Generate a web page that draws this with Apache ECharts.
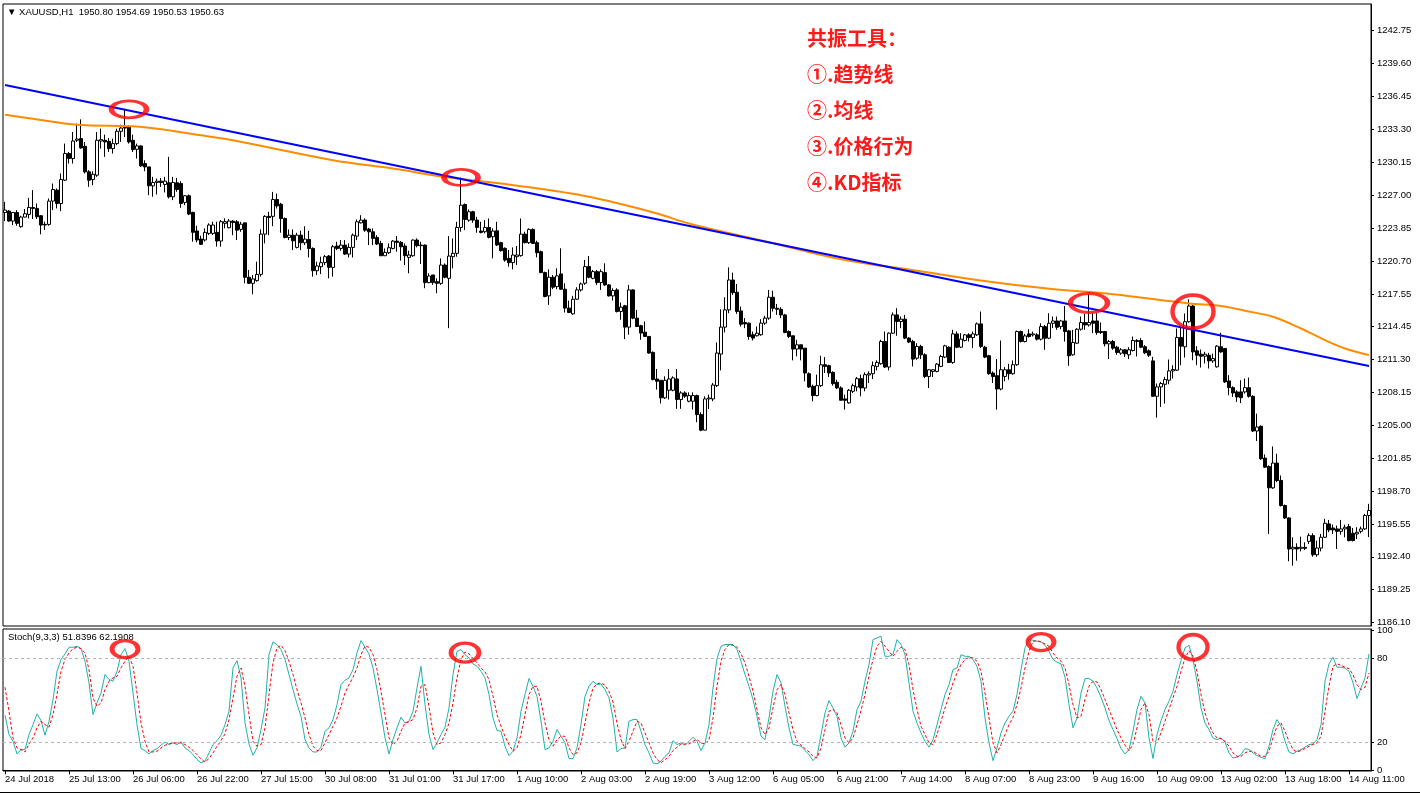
<!DOCTYPE html>
<html><head><meta charset="utf-8">
<script src="https://cdn.jsdelivr.net/npm/echarts@6/dist/echarts.min.js"></script>
<style>html,body{margin:0;padding:0;background:#fff}#c{width:1420px;height:795px}</style>
</head><body><div id="c"></div>
<script>
// ---- price data (H1 bars, XAUUSD) ----
const opens=[1225.35,1225.48,1224.53,1225.35,1223.99,1224.91,1225.17,1225.83,1225.74,1225.04,
1224.21,1224.21,1226.44,1227.49,1226.21,1228.44,1230.99,1230.51,1232.26,1232.42,
1231.68,1229.24,1228.50,1228.92,1232.19,1232.26,1232.16,1231.46,1231.94,1233.12,
1233.59,1233.53,1232.26,1231.40,1231.72,1230.03,1229.71,1227.90,1228.22,1228.35,
1228.03,1228.19,1226.85,1228.19,1228.12,1226.31,1226.95,1225.36,1223.58,1222.81,
1222.72,1223.35,1223.35,1223.45,1222.62,1224.31,1223.89,1224.52,1224.46,1223.73,
1224.36,1219.15,1218.57,1218.83,1219.43,1223.28,1224.98,1224.98,1226.59,1226.14,
1224.77,1222.96,1223.18,1222.01,1223.18,1222.45,1222.77,1221.91,1219.78,1220.16,
1220.55,1221.18,1220.10,1222.14,1221.91,1222.23,1221.37,1222.01,1223.09,1224.36,
1224.62,1223.76,1223.50,1222.96,1222.39,1221.21,1221.50,1221.91,1222.61,1222.49,
1222.14,1221.05,1221.21,1222.71,1222.23,1222.23,1218.64,1219.37,1218.73,1218.57,
1220.32,1219.05,1221.12,1221.44,1223.92,1226.11,1224.62,1225.42,1224.62,1223.57,
1223.51,1223.92,1223.03,1223.60,1222.46,1221.92,1220.96,1220.55,1221.12,1221.22,
1223.28,1222.46,1223.73,1222.46,1221.60,1219.60,1217.37,1219.15,1218.26,1219.47,
1218.01,1216.20,1215.65,1217.05,1217.94,1218.58,1220.17,1219.05,1219.69,1218.64,
1219.60,1218.42,1217.37,1217.94,1215.88,1216.42,1214.38,1217.94,1215.24,1214.51,
1213.90,1213.49,1211.96,1209.42,1209.29,1207.61,1208.34,1208.34,1209.42,1207.45,
1208.08,1207.29,1207.29,1207.83,1206.01,1204.52,1207.51,1207.51,1208.78,1211.80,
1214.38,1216.03,1218.89,1217.72,1215.93,1214.82,1214.76,1213.65,1213.55,1213.65,
1214.76,1215.24,1217.24,1216.19,1216.09,1215.55,1213.96,1213.55,1212.28,1212.69,
1212.37,1209.92,1208.72,1207.83,1208.78,1210.78,1210.69,1210.05,1209.10,1208.56,
1207.51,1207.13,1208.24,1208.65,1209.45,1208.56,1209.80,1209.92,1210.62,1210.88,
1213.01,1210.56,1213.80,1215.55,1214.92,1215.14,1213.33,1213.01,1211.41,1212.53,
1211.73,1209.66,1210.14,1210.14,1210.62,1211.51,1212.46,1211.00,1213.73,1212.46,
1213.10,1213.64,1213.38,1213.64,1214.69,1212.46,1211.64,1209.98,1209.73,1208.46,
1209.66,1210.30,1209.92,1210.78,1213.96,1213.00,1213.73,1213.64,1213.64,1213.23,
1214.43,1213.32,1214.75,1214.97,1214.43,1214.97,1214.02,1211.73,1212.84,1214.18,
1214.82,1214.59,1214.97,1214.97,1213.96,1213.96,1212.78,1213.00,1212.46,1211.89,
1212.21,1211.73,1212.14,1213.00,1213.10,1212.50,1212.11,1211.15,1207.76,1208.66,
1208.91,1209.30,1210.19,1210.26,1213.39,1212.50,1214.90,1216.40,1212.11,1211.79,
1211.60,1211.69,1211.15,1210.58,1212.50,1212.34,1209.23,1208.59,1208.18,1208.18,
1208.18,1208.59,1207.76,1204.44,1204.89,1201.85,1201.05,1199.00,1201.37,1199.70,
1197.31,1196.12,1193.15,1193.31,1193.21,1193.31,1193.88,1194.43,1192.60,1193.24,
1194.27,1195.55,1195.16,1195.07,1194.84,1195.07,1195.29,1194.65,1194.59,1194.84,
1195.07,1196.35];
const closes=[1225.58,1224.53,1225.35,1224.31,1224.91,1225.23,1225.83,1225.74,1224.94,1224.15,
1224.15,1226.44,1227.55,1226.21,1228.50,1230.99,1230.51,1232.19,1232.38,1231.53,
1229.24,1228.44,1229.01,1232.26,1232.32,1232.10,1231.46,1231.94,1233.12,1233.43,
1233.43,1232.10,1231.37,1231.72,1229.81,1229.71,1227.90,1228.22,1228.35,1228.22,
1228.35,1226.85,1228.22,1227.55,1226.21,1226.95,1225.20,1223.45,1222.72,1222.30,
1223.45,1224.15,1224.15,1222.62,1224.47,1224.47,1224.53,1224.39,1223.66,1224.23,
1219.15,1218.57,1218.99,1219.43,1223.28,1224.98,1224.87,1226.59,1225.98,1224.77,
1222.96,1223.18,1222.64,1223.18,1222.45,1222.80,1221.91,1219.78,1220.23,1220.55,
1221.12,1220.10,1222.07,1221.91,1222.23,1221.37,1222.01,1223.18,1224.46,1224.62,
1223.66,1223.50,1222.87,1222.33,1221.21,1221.53,1221.98,1222.61,1222.49,1222.07,
1221.21,1221.28,1222.71,1222.17,1222.17,1218.64,1219.27,1218.64,1218.57,1220.32,
1219.15,1221.18,1221.44,1223.92,1226.05,1224.68,1225.42,1224.62,1223.92,1223.44,
1223.92,1222.97,1223.57,1222.24,1221.70,1220.80,1220.55,1221.28,1221.28,1223.28,
1222.46,1223.73,1222.39,1221.50,1219.60,1217.31,1219.15,1218.20,1219.28,1218.01,
1216.20,1215.78,1217.05,1217.94,1218.51,1220.17,1219.15,1219.69,1218.64,1219.69,
1218.42,1217.37,1217.88,1215.88,1216.29,1214.38,1217.94,1215.24,1214.44,1213.81,
1213.49,1211.90,1209.36,1209.20,1207.61,1209.29,1209.42,1209.52,1207.45,1208.08,
1207.77,1207.83,1207.83,1206.01,1204.52,1207.51,1207.60,1208.84,1211.90,1214.38,
1216.03,1218.89,1217.68,1215.87,1214.66,1214.69,1213.49,1213.33,1213.80,1214.76,
1215.24,1217.24,1216.19,1216.09,1215.55,1213.87,1213.49,1212.28,1212.69,1212.28,
1209.99,1208.65,1207.83,1208.78,1210.78,1210.62,1209.99,1208.97,1208.56,1207.38,
1207.38,1208.34,1208.78,1209.45,1208.56,1209.83,1209.92,1210.69,1211.01,1213.01,
1210.56,1213.80,1215.55,1214.92,1215.14,1213.33,1212.95,1211.32,1212.53,1211.73,
1209.66,1210.30,1210.30,1210.84,1211.57,1212.59,1211.00,1213.73,1212.46,1213.23,
1213.64,1213.38,1213.73,1214.69,1212.53,1211.51,1209.92,1209.66,1208.46,1210.30,
1210.30,1209.92,1210.78,1213.96,1213.00,1213.54,1213.48,1213.73,1213.23,1214.43,
1213.32,1214.75,1214.97,1214.37,1214.97,1213.96,1211.64,1212.91,1214.18,1214.82,
1214.59,1214.82,1214.75,1213.86,1213.86,1212.78,1213.00,1212.37,1211.95,1212.21,
1211.83,1212.21,1213.10,1213.10,1212.46,1211.92,1211.69,1207.76,1208.66,1208.98,
1209.36,1210.19,1210.32,1213.39,1212.56,1214.90,1216.40,1212.01,1211.69,1211.60,
1211.79,1211.15,1211.37,1212.56,1212.01,1209.14,1208.59,1208.08,1207.70,1207.63,
1208.59,1207.76,1204.44,1204.82,1201.78,1200.98,1199.00,1201.37,1199.70,1197.31,
1196.12,1193.15,1193.31,1193.15,1193.31,1193.21,1194.43,1192.60,1193.24,1194.27,
1195.61,1194.97,1194.97,1194.84,1195.07,1195.23,1193.95,1193.95,1194.75,1195.07,
1196.35,1196.83];
const lows=[1224.53,1224.47,1224.15,1224.08,1223.89,1224.90,1224.78,1224.72,1224.72,1223.26,
1223.67,1224.08,1225.58,1225.74,1225.48,1228.35,1230.03,1230.03,1232.10,1231.46,
1229.08,1227.80,1227.96,1228.76,1231.46,1230.67,1231.14,1230.99,1231.78,1232.10,
1232.57,1231.94,1231.14,1230.51,1229.71,1229.30,1227.01,1226.85,1227.07,1227.80,
1227.27,1226.69,1226.53,1227.33,1225.80,1226.05,1225.10,1222.56,1222.50,1222.24,
1222.56,1223.19,1223.19,1222.08,1222.08,1223.83,1223.83,1223.18,1222.71,1223.50,
1218.57,1218.51,1217.52,1218.73,1219.21,1222.39,1223.18,1224.04,1225.73,1223.41,
1222.87,1222.71,1221.75,1221.91,1221.75,1222.23,1221.05,1219.21,1219.37,1219.46,
1220.32,1219.05,1219.21,1221.75,1221.69,1221.28,1221.05,1221.05,1222.71,1224.30,
1223.50,1222.23,1222.23,1222.23,1221.18,1221.18,1221.37,1221.82,1221.60,1220.74,
1220.32,1219.53,1221.12,1222.01,1220.42,1218.10,1218.57,1218.42,1217.62,1218.42,
1219.05,1214.28,1220.00,1221.12,1223.51,1223.67,1224.46,1224.37,1223.41,1223.35,
1223.35,1222.87,1220.96,1222.14,1221.60,1220.64,1220.17,1219.91,1220.33,1221.12,
1222.39,1222.33,1222.33,1221.06,1219.53,1217.24,1216.51,1218.01,1218.01,1217.94,
1215.78,1215.72,1215.56,1216.99,1217.78,1218.42,1219.05,1218.96,1218.42,1217.94,
1218.32,1217.31,1216.92,1215.78,1215.08,1213.24,1213.65,1215.14,1214.38,1213.17,
1213.43,1211.84,1209.29,1208.40,1207.07,1207.51,1207.45,1208.24,1206.56,1206.56,
1207.61,1207.19,1206.49,1205.28,1204.42,1204.52,1206.55,1207.29,1208.65,1210.24,
1213.87,1215.71,1217.46,1215.65,1214.44,1214.28,1213.17,1213.10,1213.49,1213.55,
1214.60,1215.08,1215.87,1215.55,1215.24,1213.80,1213.33,1211.20,1211.58,1211.20,
1209.19,1208.56,1207.29,1207.76,1208.65,1209.99,1209.61,1208.78,1208.46,1207.38,
1206.49,1207.06,1208.08,1208.24,1207.76,1208.24,1209.03,1209.42,1210.24,1210.78,
1210.47,1210.24,1213.74,1213.55,1214.28,1213.23,1212.85,1210.62,1211.25,1211.32,
1209.50,1208.55,1209.60,1210.05,1210.55,1211.41,1210.94,1210.87,1212.37,1212.37,
1213.00,1213.00,1212.37,1213.54,1212.37,1211.41,1209.82,1209.03,1206.48,1208.33,
1209.19,1209.35,1209.82,1210.68,1212.91,1212.91,1213.38,1213.48,1213.10,1213.10,
1212.21,1213.23,1214.28,1214.12,1214.18,1213.00,1210.68,1211.64,1212.78,1214.05,
1214.12,1214.43,1213.80,1213.64,1213.73,1212.53,1211.32,1212.21,1211.73,1211.73,
1211.51,1211.32,1212.05,1211.57,1212.37,1211.79,1211.53,1207.70,1205.72,1206.74,
1207.06,1208.91,1209.46,1210.19,1210.74,1211.47,1214.80,1211.21,1210.74,1210.51,
1210.90,1210.42,1210.96,1210.51,1211.92,1209.04,1207.86,1207.70,1207.22,1207.12,
1208.02,1207.63,1204.34,1203.48,1201.68,1200.92,1194.59,1198.90,1199.54,1197.21,
1196.03,1191.97,1191.55,1192.03,1192.92,1193.05,1193.63,1192.41,1192.41,1192.92,
1194.20,1194.75,1194.59,1193.15,1194.52,1194.27,1193.88,1193.88,1194.11,1194.65,
1194.97,1194.29];
const highs=[1226.37,1225.58,1225.40,1225.58,1225.04,1225.68,1226.75,1227.49,1226.21,1225.10,
1224.47,1226.69,1228.12,1227.65,1229.08,1231.94,1231.14,1233.05,1233.85,1234.26,
1232.10,1229.40,1229.30,1233.05,1233.37,1232.80,1232.48,1232.42,1233.37,1233.75,
1235.28,1233.69,1232.80,1231.94,1231.78,1230.35,1229.71,1228.76,1228.60,1228.66,
1228.76,1230.67,1228.76,1228.66,1228.35,1227.01,1227.07,1225.42,1224.08,1223.13,
1223.83,1224.31,1224.47,1224.47,1224.63,1224.79,1224.72,1224.62,1224.62,1224.46,
1224.36,1219.85,1219.37,1220.64,1223.73,1225.09,1225.41,1227.32,1227.16,1226.27,
1224.87,1223.73,1223.73,1223.41,1223.60,1224.04,1223.60,1222.01,1220.64,1221.12,
1221.28,1221.28,1222.23,1222.55,1222.71,1222.71,1222.39,1223.34,1224.68,1225.09,
1224.78,1223.88,1223.82,1223.18,1222.64,1221.91,1222.39,1222.71,1223.09,1222.61,
1222.39,1221.69,1222.77,1222.87,1222.55,1222.29,1219.53,1219.37,1219.05,1220.96,
1220.48,1223.09,1222.87,1224.46,1228.69,1226.21,1225.64,1225.51,1224.94,1224.46,
1224.62,1224.78,1223.83,1224.46,1222.55,1222.01,1221.76,1222.01,1222.14,1224.78,
1223.51,1223.83,1223.83,1222.65,1221.70,1219.69,1219.91,1219.37,1220.01,1221.92,
1218.58,1216.92,1217.37,1218.20,1218.64,1220.80,1221.19,1219.85,1219.85,1219.91,
1220.49,1218.51,1218.10,1218.10,1216.73,1216.51,1218.42,1218.01,1216.03,1214.60,
1214.92,1213.49,1212.06,1210.37,1209.29,1209.67,1210.37,1209.67,1210.37,1208.24,
1208.24,1208.14,1208.14,1207.92,1206.24,1207.76,1207.92,1209.03,1212.91,1216.09,
1217.24,1220.10,1219.59,1218.51,1216.35,1215.24,1214.82,1213.96,1214.44,1215.14,
1215.46,1217.94,1217.87,1216.60,1216.28,1215.65,1214.06,1213.55,1213.17,1212.69,
1212.37,1210.05,1208.88,1209.83,1211.64,1211.51,1210.78,1210.15,1209.35,1208.72,
1207.92,1208.46,1208.97,1209.61,1209.83,1210.05,1210.15,1211.10,1211.20,1213.17,
1213.96,1213.87,1215.78,1216.19,1215.39,1215.55,1213.42,1213.17,1212.84,1212.69,
1211.89,1210.36,1210.36,1210.94,1211.73,1212.69,1212.53,1214.12,1213.96,1213.80,
1213.73,1213.80,1213.96,1214.82,1215.87,1212.59,1211.73,1210.14,1211.32,1213.10,
1210.55,1210.87,1211.19,1214.05,1214.05,1213.73,1214.18,1213.96,1213.80,1214.75,
1214.59,1215.71,1215.39,1215.39,1215.07,1216.40,1214.12,1214.12,1214.28,1215.39,
1215.64,1217.55,1215.71,1215.71,1214.82,1214.02,1213.16,1213.16,1212.59,1212.37,
1212.27,1212.46,1213.48,1213.23,1213.32,1212.66,1212.24,1211.53,1208.98,1209.14,
1209.62,1211.28,1210.74,1214.25,1214.41,1215.69,1217.04,1216.49,1212.56,1212.24,
1212.02,1211.92,1211.85,1212.66,1213.84,1212.34,1209.78,1208.72,1208.34,1209.30,
1209.46,1209.55,1207.86,1206.10,1204.98,1202.20,1201.14,1202.96,1202.26,1200.18,
1197.40,1196.19,1194.27,1193.69,1194.33,1193.79,1194.65,1194.65,1193.95,1194.59,
1196.03,1195.93,1195.48,1195.39,1195.93,1195.48,1195.55,1195.16,1195.23,1195.29,
1196.51,1197.47];

// ---- stochastic (9,3,3) ----
const stochK=[39.3,25.5,20.7,11.7,14.8,14.8,25.5,32.6,40.3,35.5,
25.0,35.0,50.5,70.7,79.1,83.1,87.9,87.9,88.6,86.9,
77.9,62.4,39.8,48.1,55.2,68.4,64.8,63.6,70.7,82.6,
86.9,77.9,55.2,32.6,15.5,14.1,11.7,14.1,15.5,17.9,
20.3,18.4,19.6,18.4,20.3,16.0,14.1,11.2,7.7,5.3,
6.5,12.4,18.4,21.2,25.0,32.6,42.2,73.1,78.3,66.0,
33.8,18.8,10.8,16.0,29.1,44.5,82.6,91.7,89.8,86.2,
79.1,68.4,57.6,47.4,38.6,21.9,16.0,13.1,13.1,16.5,
27.9,30.3,36.2,46.9,61.2,
64.3,66.0,71.9,83.8,92.6,87.9,83.1,73.1,57.6,41.0,
23.1,11.7,21.9,30.3,37.9,33.8,35.0,42.2,58.8,74.3,
46.9,25.5,14.8,19.6,25.5,30.8,44.5,68.4,85.0,86.2,
82.6,80.2,76.0,74.3,70.7,66.0,54.1,37.4,28.4,27.9,
17.2,10.5,13.6,23.1,42.2,54.1,65.5,60.0,52.9,35.0,
14.8,16.0,20.7,29.1,24.3,19.6,8.4,8.4,16.0,32.6,
52.9,60.0,63.6,61.2,61.7,57.6,51.7,37.4,13.1,15.5,
16.0,35.0,36.2,36.2,27.9,18.4,12.4,5.3,4.6,6.5,
10.0,12.4,21.2,18.4,19.6,17.9,
20.7,23.6,20.7,14.1,19.6,32.6,58.8,79.8,88.6,89.8,
89.8,89.8,86.2,77.9,68.4,60.0,50.5,38.6,24.3,21.9,
37.4,56.4,68.4,62.4,45.7,30.3,18.4,17.9,17.2,14.1,
11.2,6.9,10.0,25.5,41.0,49.8,44.5,38.6,23.1,16.5,
19.6,27.9,43.4,49.3,63.6,75.5,93.3,94.5,95.7,81.4,
81.4,82.6,93.3,89.8,82.6,62.4,42.2,33.8,26.7,20.7,
16.5,21.9,32.6,43.4,54.1,61.2,71.9,73.1,82.6,81.4,
81.4,79.1,74.3,63.6,37.4,19.6,6.9,16.0,26.7,33.8,
38.6,42.2,54.1,71.9,87.4,93.3,
92.9,92.1,91.7,89.3,85.0,79.1,77.2,76.0,66.4,46.9,
30.3,37.4,55.2,65.5,65.5,63.6,58.8,52.2,44.5,35.5,
29.1,22.6,15.5,11.7,14.8,27.9,43.4,52.9,48.1,23.1,
8.4,25.5,35.5,43.4,49.3,56.4,68.4,78.3,87.4,89.3,
79.1,63.6,44.5,33.8,29.1,23.1,21.9,23.1,20.3,12.4,
8.8,9.3,11.2,15.5,14.8,12.4,10.5,9.3,8.4,17.2,
29.1,36.2,31.5,20.7,13.1,11.7,13.6,14.8,16.5,18.4,
18.8,21.9,32.6,63.6,76.0,80.7,73.6,73.6,73.1,70.7,
62.4,51.2,58.8,66.0,83.1];
const stochD=[59.3,42.2,23.1,16.0,14.8,13.1,18.8,23.1,30.3,35.0,
32.6,30.8,39.8,54.1,70.7,79.1,83.8,86.9,87.9,86.9,
83.8,71.9,51.7,45.7,48.1,57.6,63.6,66.0,67.2,73.1,
77.9,81.4,74.3,55.2,33.8,20.7,13.1,13.1,13.6,16.0,
17.9,18.8,19.6,19.6,19.6,18.4,16.5,14.1,11.2,8.1,
6.0,8.4,12.4,17.2,21.2,26.0,36.2,51.7,67.2,73.1,
60.0,39.8,20.7,17.2,18.4,30.3,54.1,76.7,87.4,89.3,
85.5,77.9,68.4,57.6,48.1,37.4,25.5,17.2,14.1,14.1,
19.6,25.5,31.5,37.4,45.7,
55.2,61.2,66.4,73.1,82.6,88.6,87.9,82.6,71.9,56.4,
39.8,23.1,18.4,20.7,27.9,33.8,34.6,36.2,44.5,60.0,
61.2,45.7,26.7,18.4,19.6,25.5,33.8,48.1,66.0,79.1,
84.5,83.1,79.8,76.7,73.1,70.3,64.8,52.9,39.8,31.5,
24.3,18.4,13.6,16.0,25.5,39.8,54.1,60.0,60.0,49.3,
33.8,21.9,17.2,21.9,24.3,24.3,16.0,11.2,12.4,19.6,
33.8,48.1,58.8,61.7,62.4,60.7,56.4,48.8,33.8,21.9,
15.5,20.7,27.9,35.0,33.8,26.7,19.6,12.4,7.7,5.3,
7.7,10.0,14.1,16.5,18.8,18.8,
18.8,20.7,21.9,19.6,18.8,21.9,37.4,60.0,77.9,86.2,
89.8,89.3,87.9,83.1,76.7,67.2,56.4,43.4,30.3,25.5,
30.3,44.5,57.6,61.2,54.1,41.0,29.1,20.7,17.9,15.5,
13.1,10.0,8.8,16.0,29.1,42.2,43.4,41.0,32.6,23.1,
19.6,23.1,32.6,42.6,54.1,67.2,79.1,88.6,92.1,88.6,
85.0,81.4,85.0,87.9,86.2,75.5,57.6,43.4,31.5,25.5,
19.6,18.4,25.5,35.0,44.5,52.9,62.4,69.5,75.5,79.1,
80.7,80.2,77.9,70.7,55.2,37.4,19.6,12.4,18.4,25.5,
32.6,37.9,46.9,58.8,73.1,85.0,
92.1,92.6,91.7,90.2,88.6,83.8,80.2,77.9,73.1,61.2,
46.9,37.4,38.6,50.5,60.0,63.6,63.1,57.6,50.5,43.4,
36.2,29.1,23.1,17.9,14.1,18.4,30.3,43.4,48.1,39.8,
20.7,19.6,26.7,35.0,43.4,51.7,60.0,70.7,80.2,85.5,
81.4,70.7,54.1,41.0,32.6,26.7,23.1,22.6,20.7,17.2,
12.4,10.0,10.0,12.4,13.6,13.6,11.7,10.0,10.0,13.6,
23.1,31.5,33.8,27.9,20.7,14.8,13.1,14.1,15.5,17.2,
18.4,19.6,24.3,42.2,60.0,74.3,76.0,75.0,73.6,72.6,
68.4,61.2,57.6,59.3,69.5];

// ---- overlays ----
const trendBars=[0,341];
const trendValues=[1237.55,1210.65];
const maBars=[0,7,18,32,40,49,57,82,97,110,129,146,163,171,190,210,228,243,260,277,296,304,310,317,324,330,335,341];
const maValues=[1234.70,1234.32,1233.75,1233.59,1233.27,1232.73,1232.26,1230.34,1229.55,1228.75,1227.86,1226.85,1225.26,1224.30,1222.60,1220.80,1219.78,1218.89,1218.09,1217.52,1216.65,1216.40,1215.95,1215.37,1214.25,1213.13,1212.33,1211.70];
const priceMarkBars=[31,114,271,297];
const priceMarkValues=[1235.22,1228.70,1216.69,1215.86];
const stochMarkBars=[30,115,259,297];
const stochMarkValues=[86.6,84.0,91.6,88.0];

// ---- axis ticks ----
const priceTicks=[1186.10,1189.25,1192.40,1195.55,1198.70,1201.85,1205.00,1208.15,1211.30,1214.45,1217.55,1220.70,1223.85,1227.00,1230.15,1233.30,1236.45,1239.60,1242.75];
const stochTicks=[0,20,80,100];
const stochLevels=[20,80];
const firstLabel='24 Jul 2018';
const MONTHS=['Jan','Feb','Mar','Apr','May','Jun','Jul','Aug','Sep','Oct','Nov','Dec'];

// hourly bar times (no 00:00 bar, no weekends)
const categories=[];
(function(){let t=Date.UTC(2018,6,24,20);
 while(categories.length<opens.length){const d=new Date(t);const h=d.getUTCHours(),w=d.getUTCDay();
  if(h!==0&&w!==0&&w!==6){categories.push(d.getUTCDate()+' '+MONTHS[d.getUTCMonth()]+' '+String(h).padStart(2,'0')+':00');}
  t+=3600000;}})();

const candleData=opens.map((o,i)=>[o,closes[i],lows[i],highs[i]]);
const FONT='"Liberation Sans", Arial, sans-serif';
const CJK='"Noto Sans CJK SC", sans-serif';
const priceMarkSizes=[[35,17],[34,16],[37,19],[41,33]];
const stochMarkSizes=[[26,17],[28,19],[26,17],[29,25]];
const noteStyle={fontSize:20,fontWeight:'bold',fontFamily:CJK,fill:'#ff1a1a'};

const chart=echarts.init(document.getElementById('c'),null,{renderer:'canvas'});
chart.setOption({
 animation:false,
 backgroundColor:'#fff',
 grid:[
  {left:3,right:49,top:4,height:622,show:true,borderColor:'#000',borderWidth:1},
  {left:3,right:49,top:629,height:142,show:true,borderColor:'#000',borderWidth:1}
 ],
 xAxis:[
  {type:'category',gridIndex:0,data:categories,boundaryGap:true,axisLine:{show:false},axisTick:{show:false},axisLabel:{show:false},splitLine:{show:false}},
  {type:'category',gridIndex:1,data:categories,boundaryGap:true,
   axisLine:{show:true,lineStyle:{color:'#000',width:1}},
   axisTick:{show:true,interval:15,alignWithLabel:true,length:4,lineStyle:{color:'#000'}},
   axisLabel:{interval:15,align:'left',margin:3,fontSize:9.5,color:'#000',fontFamily:FONT,
     formatter:(v,i)=>i===0?firstLabel:v},
   splitLine:{show:false}}
 ],
 yAxis:[
  {type:'value',gridIndex:0,position:'right',min:1185.78,max:1245.30,scale:true,
   axisLine:{show:true,lineStyle:{color:'#000'}},
   axisTick:{show:true,length:3,customValues:priceTicks,lineStyle:{color:'#000'}},
   axisLabel:{customValues:priceTicks,margin:6,fontSize:9.5,color:'#000',fontFamily:FONT,formatter:v=>v.toFixed(2)},
   splitLine:{show:false}},
  {type:'value',gridIndex:1,position:'right',min:-0.5,max:100.9,
   axisLine:{show:true,lineStyle:{color:'#000'}},
   axisTick:{show:true,length:3,customValues:stochTicks,lineStyle:{color:'#000'}},
   axisLabel:{customValues:stochTicks,margin:6,fontSize:9.5,color:'#000',fontFamily:FONT},
   splitLine:{show:false}}
 ],
 series:[
  {type:'candlestick',xAxisIndex:0,yAxisIndex:0,data:candleData,barWidth:3,
   itemStyle:{color:'#ffffff',color0:'#000000',borderColor:'#000000',borderColor0:'#000000',borderColorDoji:'#000000',borderWidth:1},z:2},
  {type:'line',xAxisIndex:0,yAxisIndex:0,data:maBars.map((b,i)=>[b,maValues[i]]),smooth:0.35,symbol:'none',
   lineStyle:{color:'#ff8c00',width:2},z:3},
  {type:'line',xAxisIndex:0,yAxisIndex:0,data:trendBars.map((b,i)=>[b,trendValues[i]]),symbol:'none',
   lineStyle:{color:'#0000ff',width:2},z:4},
  {type:'scatter',xAxisIndex:0,yAxisIndex:0,data:priceMarkBars.map((b,i)=>[b,priceMarkValues[i]]),
   symbol:'circle',symbolSize:(v,p)=>priceMarkSizes[p.dataIndex],
   itemStyle:{color:'rgba(0,0,0,0)',borderColor:'#ff0000',borderWidth:4},z:10,silent:true},
  {type:'line',xAxisIndex:1,yAxisIndex:1,data:stochK,symbol:'none',lineStyle:{color:'#20b2aa',width:1},z:3,
   markLine:{silent:true,symbol:['none','none'],label:{show:false},
     lineStyle:{color:'#b4b4b4',type:[3,3],width:1},data:stochLevels.map(v=>({yAxis:v}))}},
  {type:'line',xAxisIndex:1,yAxisIndex:1,data:stochD,symbol:'none',lineStyle:{color:'#ff0000',width:1,type:[3,2]},z:4},
  {type:'scatter',xAxisIndex:1,yAxisIndex:1,data:stochMarkBars.map((b,i)=>[b,stochMarkValues[i]]),
   symbol:'circle',symbolSize:(v,p)=>stochMarkSizes[p.dataIndex],
   itemStyle:{color:'rgba(0,0,0,0)',borderColor:'#ff0000',borderWidth:4},z:10,silent:true}
 ],
 graphic:[
  {type:'text',left:7,top:7,style:{text:'▼ XAUUSD,H1  1950.80 1954.69 1950.53 1950.63',fontSize:9.5,fontFamily:FONT,fill:'#000'}},
  {type:'text',left:8,top:632,style:{text:'Stoch(9,3,3) 51.8396 62.1908',fontSize:9.5,fontFamily:FONT,fill:'#000'}},
  {type:'text',left:807,top:28,style:Object.assign({text:'共振工具：'},noteStyle)},
  {type:'text',left:807,top:64,style:Object.assign({text:'①.趋势线'},noteStyle)},
  {type:'text',left:807,top:100,style:Object.assign({text:'②.均线'},noteStyle)},
  {type:'text',left:807,top:136,style:Object.assign({text:'③.价格行为'},noteStyle)},
  {type:'text',left:807,top:172,style:Object.assign({text:'④.KD指标'},noteStyle)},
  {type:'rect',left:0,top:792,shape:{width:1420,height:1},style:{fill:'#000'}}
 ]
});
</script></body></html>
